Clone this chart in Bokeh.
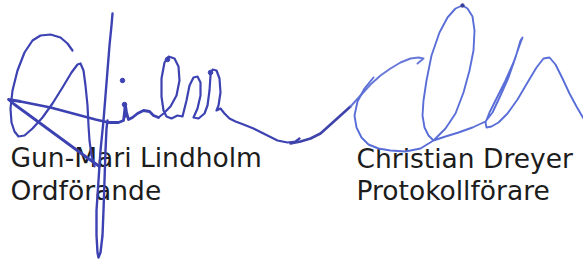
from bokeh.plotting import figure
from bokeh.models import Range1d
from bokeh.embed import file_html
from bokeh.resources import INLINE
from bokeh.core.properties import value

# ---- text labels ----
label_text = ["Gun-Mari Lindholm", "Ordförande", "Christian Dreyer", "Protokollförare"]
label_x = [10, 10, 356, 356]
label_y = [157, 190, 158, 190]

# ---- signature 1 (Gun-Mari Lindholm), traced pen points ----
g_loop_x = [72, 67, 60, 50, 40, 32, 24, 17, 12, 10, 11, 14, 18, 24, 32, 42, 52, 62, 71, 77, 80, 83, 85, 87, 88, 89, 91, 94]
g_loop_y = [50, 43, 37, 34, 35, 40, 52, 70, 90, 108, 122, 131, 136, 135, 128, 117, 103, 87, 72, 64, 63, 70, 85, 105, 125, 140, 155, 166]

stem_x = [112, 111, 109, 107, 105, 103, 100, 98, 96, 96, 97, 98, 100, 102, 103, 104, 105, 106, 107]
stem_y = [13, 25, 45, 70, 95, 120, 150, 180, 210, 235, 252, 257, 252, 235, 210, 180, 150, 128, 120]

cross_x = [99, 85, 70, 55, 40, 25, 14, 8, 20, 35, 50, 65, 80, 95, 108, 118, 123, 124, 125, 126, 128, 132, 137, 143, 149, 153, 158]
cross_y = [166, 156, 145, 134, 123, 112, 104, 99, 101, 104, 107, 111, 115, 119, 122, 122, 120, 112, 105, 112, 119, 117, 113, 110, 111, 115, 117]

loops_x = [158, 163, 170, 176, 179, 178, 174, 168, 164, 161, 161, 163, 166, 171, 177, 182, 186, 189, 193, 197, 200, 200, 197, 193, 198, 204,
           207, 209, 210, 212, 216, 219, 220, 218, 216, 220, 224, 229, 235, 243, 253, 265, 277, 287, 295, 299]
loops_y = [117, 113, 106, 95, 80, 66, 58, 56, 62, 78, 96, 110, 116, 118, 115, 116, 100, 85, 77, 76, 82, 95, 108, 117, 118, 113,
           105, 90, 75, 69, 70, 78, 92, 105, 110, 108, 113, 118, 121, 124, 128, 134, 140, 142, 141, 138]

i_stem_x = [124, 125]
i_stem_y = [104, 116]
sig1_dot_x = [122, 167, 210, 124]
sig1_dot_y = [80, 59, 72, 104]

# ---- signature 2 (Christian Dreyer) ----
lead_x = [290, 300, 310, 320, 330, 340, 350]
lead_y = [143, 141, 138, 133, 124, 115, 106]
lead2_x = [350, 360, 370, 380, 390, 400, 410, 418, 423, 417]
lead2_y = [106, 95, 84, 75, 68, 62, 58, 57, 58, 63]

main_x = [373, 364, 357, 354, 356, 361, 368, 378, 390, 405, 420, 433, 445, 455, 463, 469, 473, 474, 472, 467, 462, 455, 447, 439, 431,
          426, 423, 422, 424, 428, 433, 445, 458, 472, 485, 492, 500, 508, 515, 520, 522, 519, 513, 505, 496, 489, 485, 486, 491, 498,
          507, 517, 527, 536, 543, 549, 555, 562, 569, 576, 583]
main_y = [77, 88, 101, 115, 127, 137, 144, 148, 150, 151, 148, 140, 128, 113, 92, 70, 50, 30, 16, 8, 5, 8, 17, 32, 55,
          80, 100, 115, 127, 135, 140, 136, 132, 127, 121, 112, 95, 77, 57, 40, 37, 45, 62, 80, 98, 112, 122, 127, 126, 122,
          113, 99, 82, 67, 58, 57, 64, 78, 93, 106, 118]
sig2_dot_x = [462]
sig2_dot_y = [5]

p = figure(width=583, height=262, output_backend="svg", toolbar_location=None,
           x_range=Range1d(0, 583), y_range=Range1d(262, 0), min_border=0)
p.axis.visible = False
p.grid.visible = False
p.outline_line_color = None
p.background_fill_color = "white"
p.border_fill_color = "white"

c1 = "#3d42b2"
c2 = "#5a6ed8"

p.text(x=label_x, y=label_y, text=label_text, text_font=value("DejaVu Sans"),
       text_font_size="26.5px", text_baseline="alphabetic", text_align="left", text_color="#1c1c1c")

for xs, ys, w in [(g_loop_x, g_loop_y, 2.2), (stem_x, stem_y, 2.4), (cross_x, cross_y, 2.8),
                  (loops_x, loops_y, 2.2), (i_stem_x, i_stem_y, 2.5)]:
    p.line(xs, ys, line_color=c1, line_width=w, line_join="round", line_cap="round")
p.scatter(sig1_dot_x, sig1_dot_y, size=4.5, color=c1)

p.line(lead_x, lead_y, line_color="#3f44aa", line_width=2.6, line_join="round", line_cap="round")
p.line(lead2_x, lead2_y, line_color="#6878d8", line_width=2.0, line_join="round", line_cap="round")
p.line(main_x, main_y, line_color=c2, line_width=1.9, line_join="round", line_cap="round")
p.scatter(sig2_dot_x, sig2_dot_y, size=3.5, color="#3a3f9a")

open("out.html", "w").write(file_html(p, INLINE))
